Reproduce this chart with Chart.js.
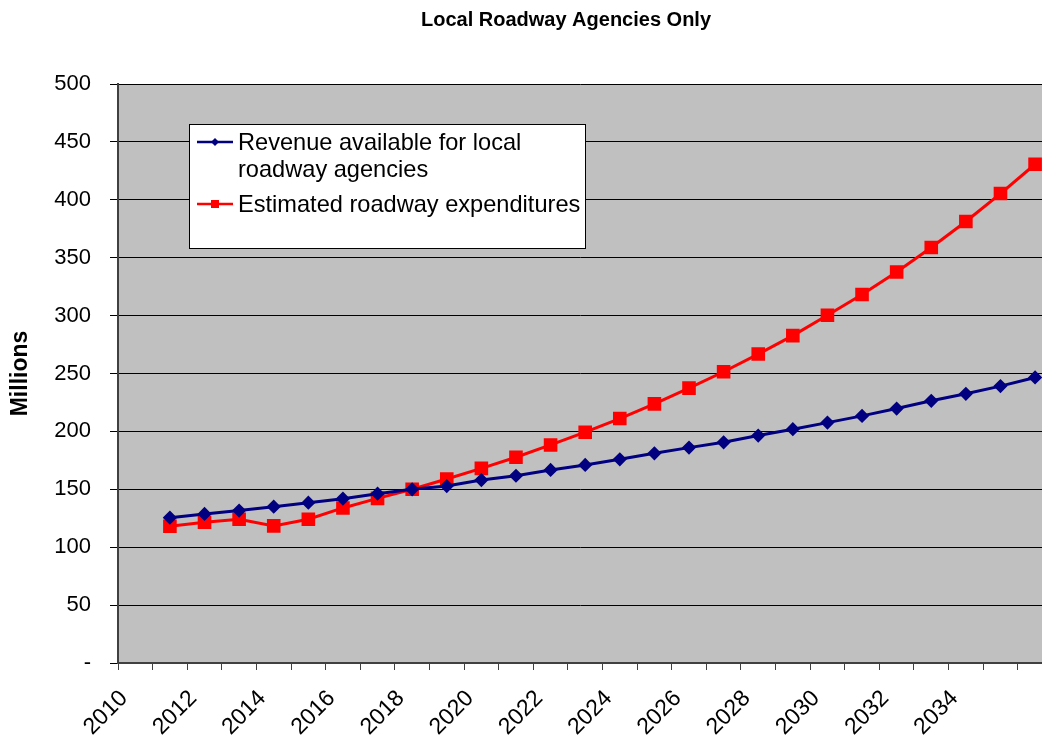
<!DOCTYPE html>
<html>
<head>
<meta charset="utf-8">
<title>Local Roadway Agencies Only</title>
<script src="https://cdn.jsdelivr.net/npm/chart.js@4/dist/chart.umd.min.js"></script>
<style>
  html, body { margin: 0; padding: 0; background: #fff; }
  canvas { display: block; }
</style>
</head>
<body>
<canvas id="roadChart" width="1042" height="741"></canvas>
<script>
// Local roadway agencies: revenue vs estimated expenditures, $ millions.
// Values sit mid-year, between the yearly tick marks, like the source sheet.
const years = [2011.5, 2012.5, 2013.5, 2014.5, 2015.5, 2016.5, 2017.5, 2018.5, 2019.5,
  2020.5, 2021.5, 2022.5, 2023.5, 2024.5, 2025.5, 2026.5, 2027.5, 2028.5, 2029.5,
  2030.5, 2031.5, 2032.5, 2033.5, 2034.5, 2035.5, 2036.5];
const revenue = [125.5, 128.7, 131.6, 135.0, 138.4, 141.9, 146.2, 150.0, 152.8,
  158.0, 161.7, 166.7, 171.0, 175.9, 181.1, 186.0, 190.6, 196.4, 201.9,
  207.6, 213.4, 219.7, 226.4, 232.5, 239.1, 246.6];
const expenditures = [118.1, 121.6, 124.1, 118.4, 124.1, 133.9, 142.2, 150.0, 158.9,
  168.1, 177.7, 188.3, 199.3, 211.1, 223.8, 237.4, 251.5, 266.8, 282.7,
  300.3, 318.2, 337.7, 358.8, 381.3, 405.4, 430.7];
const yearLabels = ['2010', '2012', '2014', '2016', '2018', '2020', '2022',
  '2024', '2026', '2028', '2030', '2032', '2034'];
const legendLines = [
  ['Revenue available for local', 'roadway agencies'],
  ['Estimated roadway expenditures'],
];

const FONT = '"Liberation Sans", Arial, sans-serif';

const plotBackground = {
  id: 'plotBackground',
  beforeDraw(chart) {
    const { ctx, chartArea: a } = chart;
    ctx.save();
    ctx.fillStyle = '#c0c0c0';
    ctx.fillRect(a.left, a.top, a.right - a.left, a.bottom - a.top);
    ctx.restore();
  },
};

const chartTitle = {
  id: 'chartTitle',
  afterDraw(chart) {
    const { ctx } = chart;
    ctx.save();
    ctx.font = 'bold 20px ' + FONT;
    ctx.fillStyle = '#000';
    ctx.textAlign = 'center';
    ctx.textBaseline = 'alphabetic';
    ctx.fillText('Local Roadway Agencies Only', 566, 26);
    ctx.restore();
  },
};

// boxed legend inside the plot, with the first entry wrapped on two lines
const boxedLegend = {
  id: 'boxedLegend',
  afterDatasetsDraw(chart) {
    const { ctx, chartArea: a } = chart;
    const bx = a.left + 71, by = a.top + 40;
    ctx.save();
    ctx.fillStyle = '#fff';
    ctx.fillRect(bx, by, 396, 124);
    ctx.strokeStyle = '#000';
    ctx.lineWidth = 1;
    ctx.strokeRect(bx + 0.5, by + 0.5, 396, 124);

    const rows = [by + 18, by + 80];
    ctx.font = '23.6px ' + FONT;
    ctx.textBaseline = 'alphabetic';
    chart.data.datasets.forEach((ds, i) => {
      const y = rows[i];
      ctx.strokeStyle = ds.borderColor;
      ctx.lineWidth = 2.5;
      ctx.beginPath();
      ctx.moveTo(bx + 8, y);
      ctx.lineTo(bx + 44, y);
      ctx.stroke();
      ctx.fillStyle = ds.borderColor;
      const cx = bx + 26;
      if (ds.pointStyle === 'rectRot') {
        ctx.beginPath();
        ctx.moveTo(cx, y - 4);
        ctx.lineTo(cx + 4, y);
        ctx.lineTo(cx, y + 4);
        ctx.lineTo(cx - 4, y);
        ctx.closePath();
        ctx.fill();
      } else {
        ctx.fillRect(cx - 4, y - 4, 8, 8);
      }
      ctx.fillStyle = '#000';
      legendLines[i].forEach((line, k) => {
        ctx.fillText(line, bx + 49, y + 8 + k * 27);
      });
    });
    ctx.restore();
  },
};

new Chart(document.getElementById('roadChart'), {
  type: 'line',
  data: {
    datasets: [
      {
        label: 'Revenue available for local roadway agencies',
        data: years.map((x, i) => ({ x, y: revenue[i] })),
        borderColor: '#000080',
        backgroundColor: '#000080',
        borderWidth: 3,
        pointStyle: 'rectRot',
        pointRadius: 5,
        tension: 0,
      },
      {
        label: 'Estimated roadway expenditures',
        data: years.map((x, i) => ({ x, y: expenditures[i] })),
        borderColor: '#ff0000',
        backgroundColor: '#ff0000',
        borderWidth: 3,
        pointStyle: 'rect',
        pointRadius: 7.5,
        tension: 0,
      },
    ],
  },
  options: {
    responsive: false,
    animation: false,
    devicePixelRatio: 1,
    layout: { autoPadding: false, padding: { top: 84, right: 0, bottom: 0, left: 0 } },
    plugins: { legend: { display: false }, tooltip: { enabled: false } },
    scales: {
      x: {
        type: 'linear',
        min: 2010,
        max: 2036.7,
        afterFit(s) { s.height = 78; s.paddingRight = 0; },
        border: { color: '#404040', width: 2 },
        grid: { drawOnChartArea: false, tickLength: 7, color: '#404040' },
        ticks: {
          stepSize: 1,
          autoSkip: false,
          includeBounds: false,
          minRotation: 45,
          maxRotation: 45,
          padding: 15,
          labelOffset: 6,
          color: '#000',
          font: { family: FONT, size: 23 },
          callback: v => (yearLabels.includes(String(v)) ? String(v) : ''),
        },
      },
      y: {
        min: 0,
        max: 500,
        afterFit(s) { s.width = 118; },
        border: { color: '#404040', width: 2 },
        grid: { color: '#000', lineWidth: 1, tickLength: 8 },
        ticks: {
          stepSize: 50,
          padding: 19,
          color: '#000',
          font: { family: FONT, size: 22 },
          callback: v => (v === 0 ? '-' : v),
        },
        title: {
          display: true,
          text: 'Millions',
          color: '#000',
          font: { family: FONT, size: 23, weight: 'bold' },
          padding: { top: 7, bottom: 0 },
        },
      },
    },
  },
  plugins: [plotBackground, boxedLegend, chartTitle],
});
</script>
</body>
</html>
